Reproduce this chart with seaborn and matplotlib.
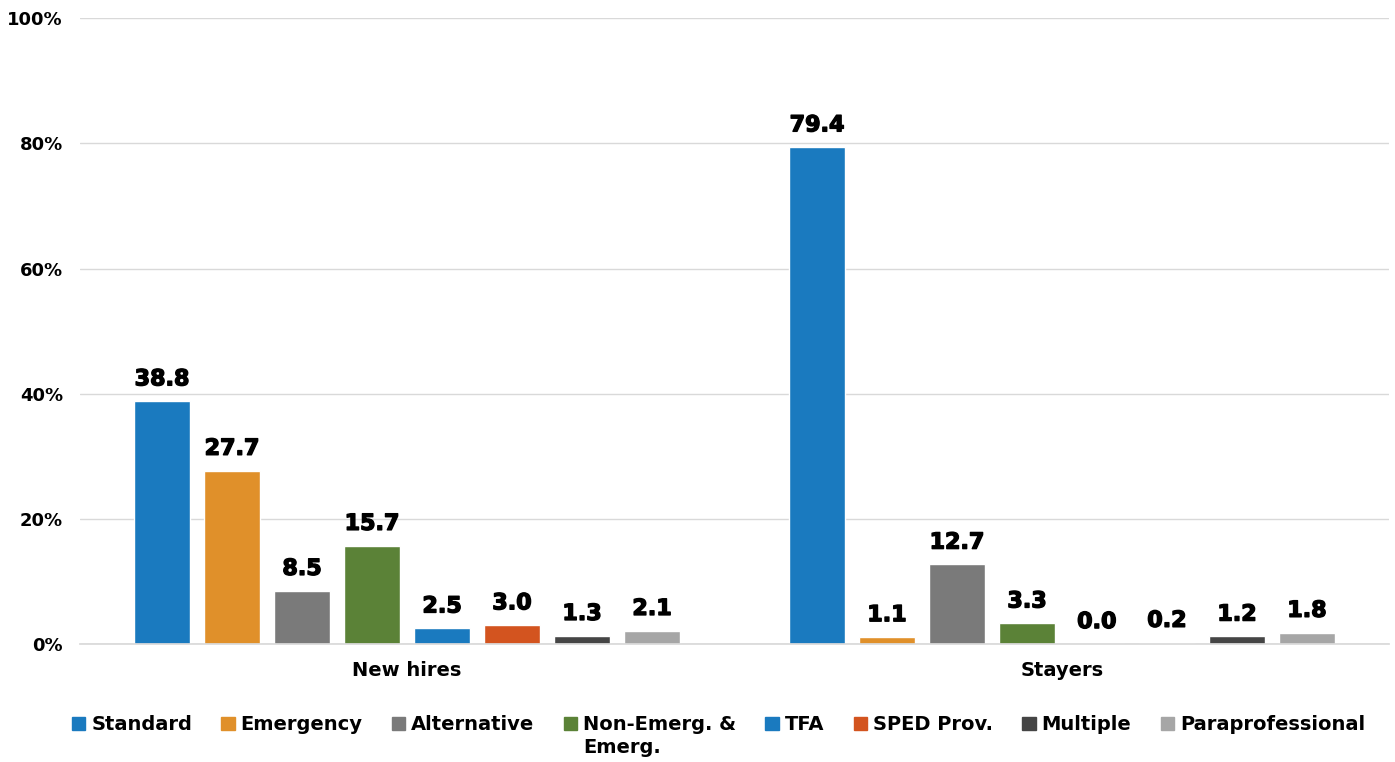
import pandas as pd
import matplotlib.pyplot as plt
import matplotlib.patheffects as pe
import seaborn as sns
from matplotlib.ticker import FuncFormatter
from matplotlib.font_manager import FontProperties

# Data
groups = ["New hires", "Stayers"]
cert_types = ["Standard", "Emergency", "Alternative", "Non-Emerg. &",
              "TFA", "SPED Prov.", "Multiple", "Paraprofessional"]
wrap_line = "Emerg."  # second line of the "Non-Emerg. & Emerg." legend entry
new_hires = [38.8, 27.7, 8.5, 15.7, 2.5, 3.0, 1.3, 2.1]
stayers = [79.4, 1.1, 12.7, 3.3, 0.0, 0.2, 1.2, 1.8]
colors = ["#1a7abf", "#e0902a", "#7a7a7a", "#5b8237",
          "#1a7abf", "#d3541f", "#454545", "#a6a6a6"]

rows = []
for g, vals in zip(groups, [new_hires, stayers]):
    for t, v in zip(cert_types, vals):
        rows.append({"Group": g, "Type": t, "Pct": v})
df = pd.DataFrame(rows)

sns.set_theme(style="white")
plt.rcParams['font.family'] = ['DejaVu Sans']
plt.rcParams['font.weight'] = 'bold'
plt.rcParams['text.color'] = 'black'
plt.rcParams['xtick.color'] = 'black'
plt.rcParams['ytick.color'] = 'black'

bold = lambda size: FontProperties(family="DejaVu Sans", weight="bold", size=size)

fig = plt.figure(figsize=(13.95, 7.62), dpi=100)
ax = fig.add_axes([0.057, 0.155, 0.939, 0.821])

sns.barplot(data=df, x="Group", y="Pct", hue="Type", hue_order=cert_types,
            order=groups, palette=colors, width=0.855, gap=0.21,
            saturation=1, ax=ax, legend=False)

ax.set_ylim(0, 100)
ax.set_yticks(range(0, 101, 20))
ax.yaxis.set_major_formatter(FuncFormatter(lambda v, p: f"{v:.0f}%"))
ax.grid(axis="y", color="#d9d9d9", linewidth=1)
ax.set_axisbelow(True)
for s in ["top", "right", "left"]:
    ax.spines[s].set_visible(False)
ax.spines["bottom"].set_color("#d9d9d9")
ax.set_xlabel("")
ax.set_ylabel("")
ax.tick_params(axis="y", length=0, pad=12, labelsize=13)
ax.tick_params(axis="x", length=0, pad=12, labelsize=14)
for lbl in ax.get_xticklabels() + ax.get_yticklabels():
    lbl.set_fontweight("bold")

# heavy value labels (slight stroke to mimic a black-weight font)
heavy = [pe.withStroke(linewidth=1.0, foreground="black")]
for container in ax.containers:
    ax.bar_label(container, fmt="%.1f", padding=8.5, fontproperties=bold(16),
                 color="black", path_effects=heavy)

# Legend
handles = [plt.Rectangle((0, 0), 1, 1, color=c) for c in colors]
leg = fig.legend(handles, cert_types, loc="center", bbox_to_anchor=(0.515, 0.0486),
                 ncol=8, frameon=False, prop=bold(14), handlelength=0.7,
                 handleheight=0.7, handletextpad=0.3, columnspacing=1.5)

# second line of the wrapped legend label, placed right under the first line
fig.canvas.draw()
bb = leg.get_texts()[3].get_window_extent()
W, H = fig.bbox.width, fig.bbox.height
fig.text(bb.x0 / W, (bb.y0 - 4) / H, wrap_line, ha="left", va="top",
         fontproperties=bold(14), color="black")

fig.savefig("out.png", dpi=100)
